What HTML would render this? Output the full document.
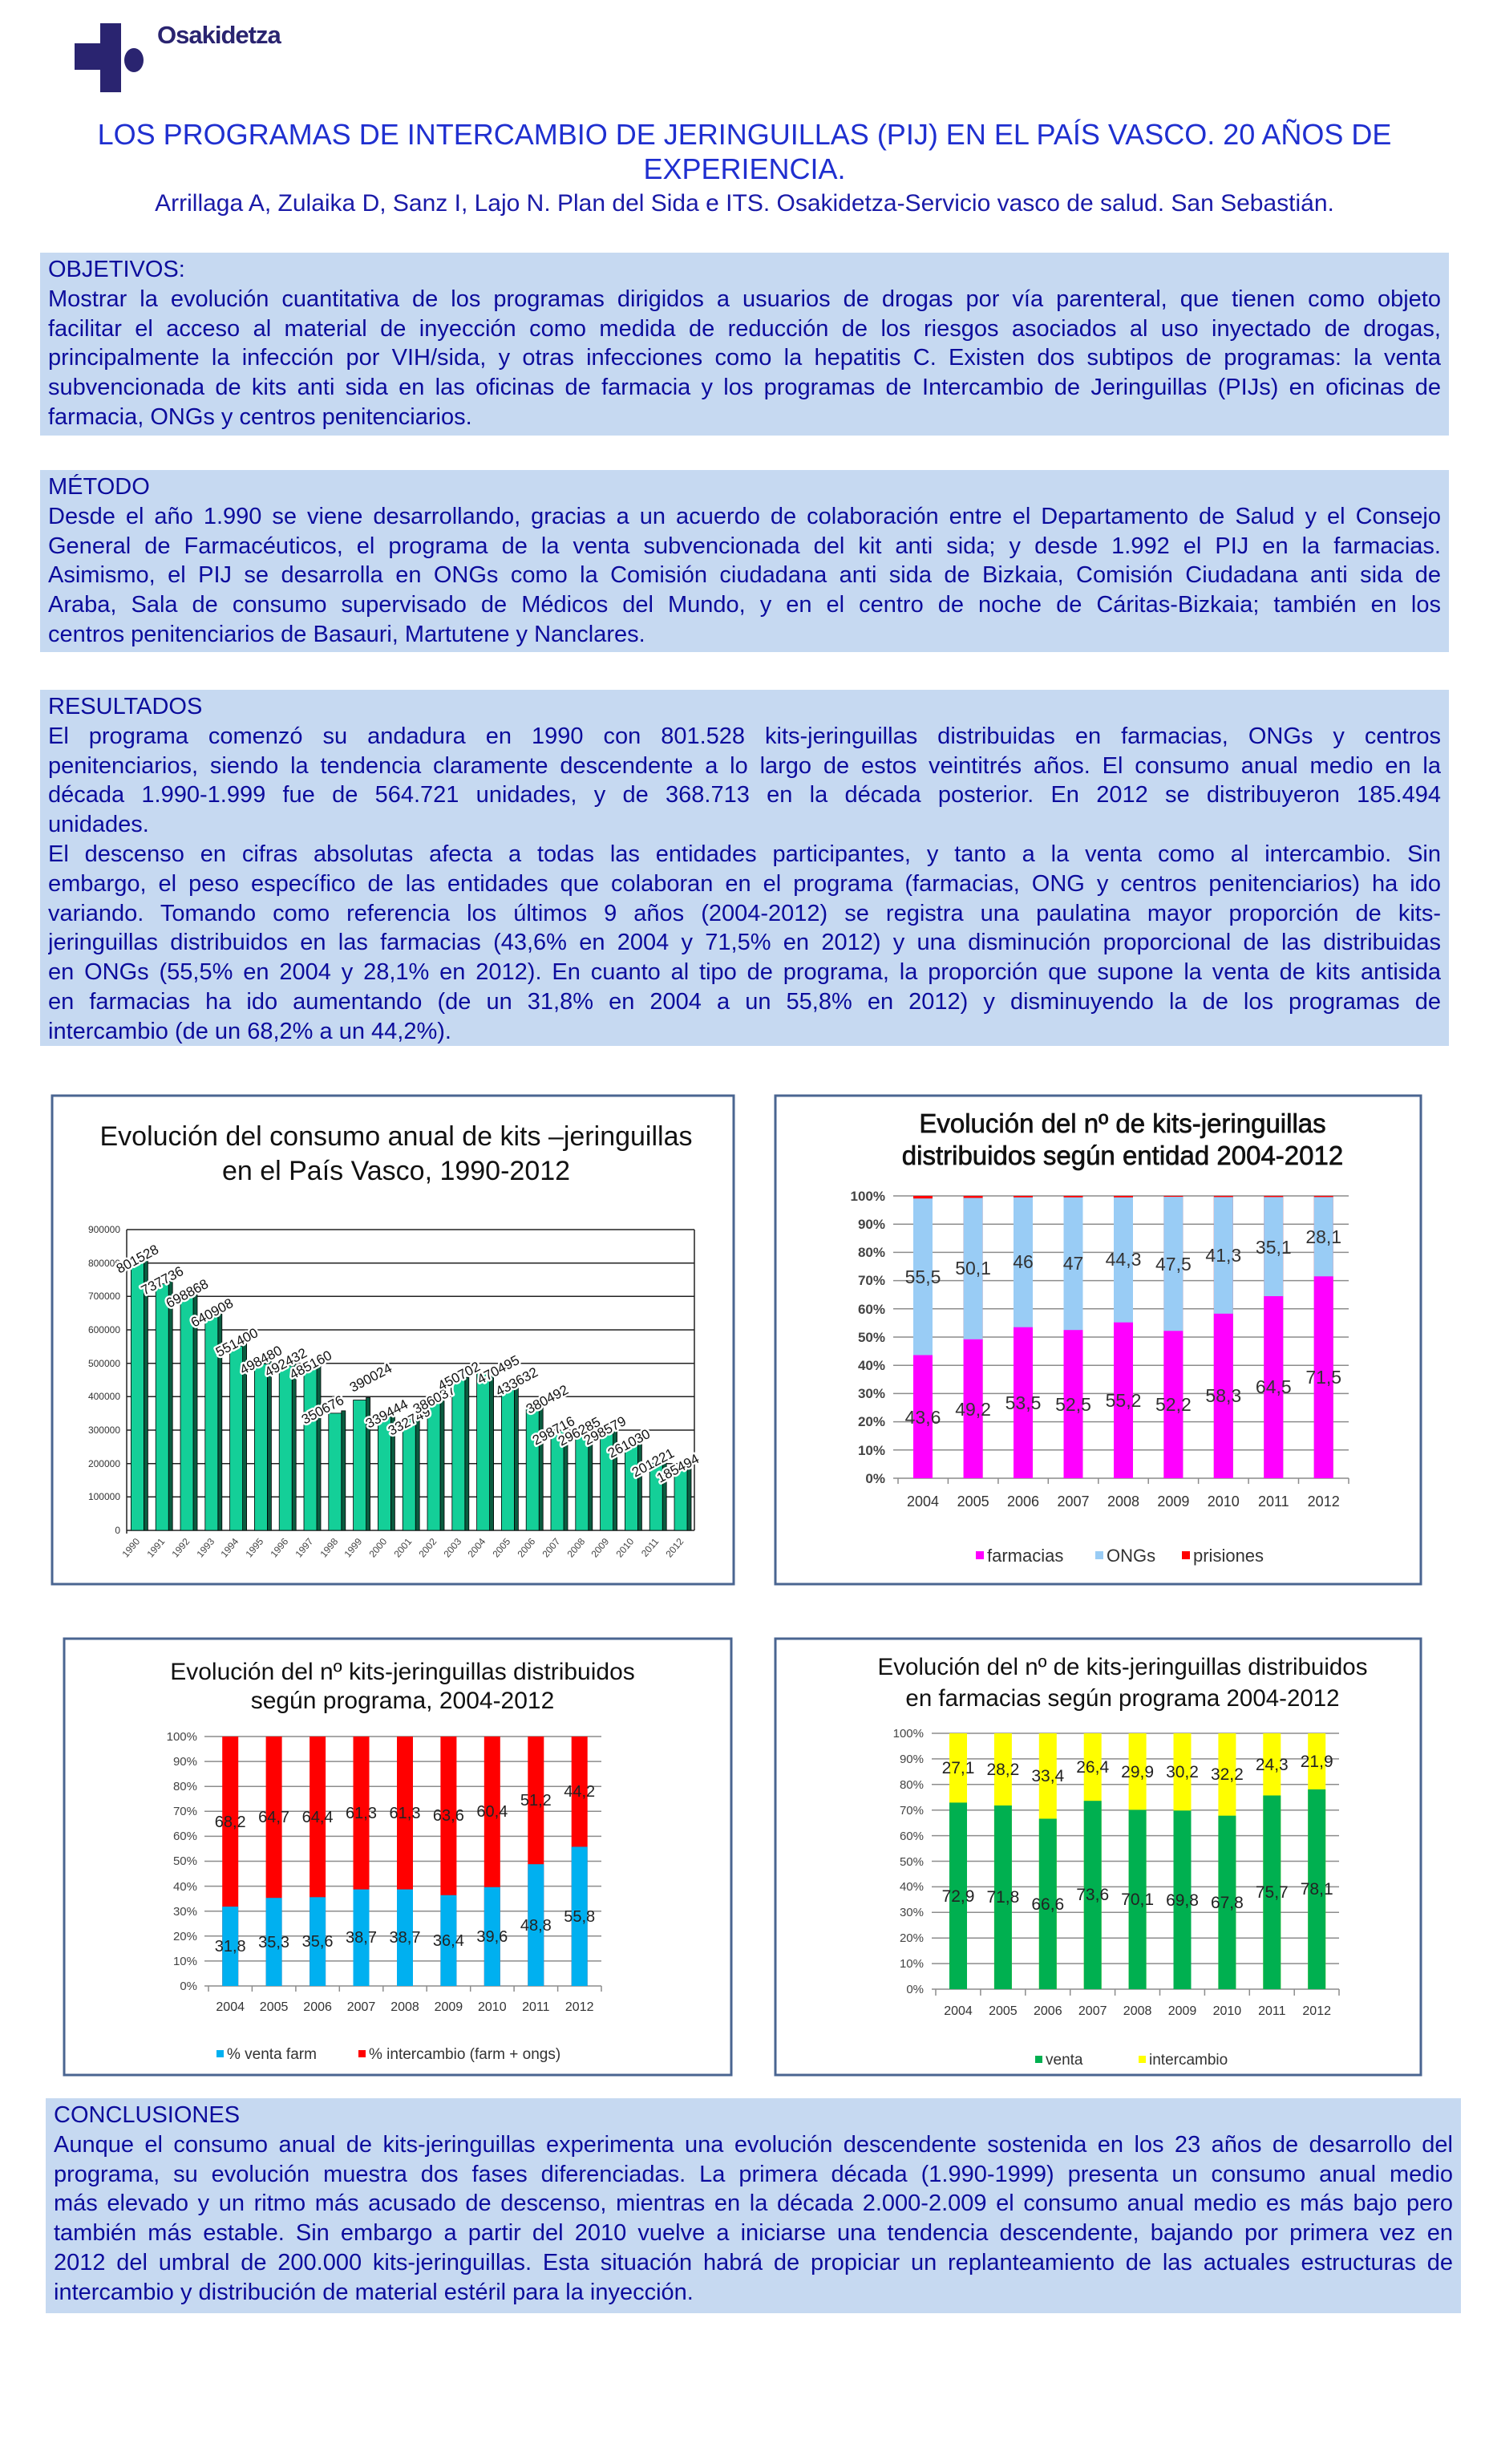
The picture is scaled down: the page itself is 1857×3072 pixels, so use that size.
<!DOCTYPE html>
<html><head><meta charset="utf-8">
<style>
html,body{margin:0;padding:0;background:#fff;}
body{width:1857px;height:3072px;position:relative;overflow:hidden;font-family:"Liberation Sans",Arial,sans-serif;}
.box{position:absolute;background:#c6d9f1;color:#0c0c9c;font-size:29px;box-sizing:border-box;padding:3px 10px 0 10px;}
.l{height:36.8px;line-height:36.8px;text-align:justify;text-align-last:justify;overflow:hidden;}
.l.e{text-align-last:left;}
.t{position:absolute;left:0;width:1857px;text-align:center;}
svg text{font-family:"Liberation Sans",Arial,sans-serif;}
</style></head><body>

<div style="position:absolute;left:125px;top:29px;width:26px;height:86px;background:#2a2470;"></div>
<div style="position:absolute;left:93px;top:54px;width:34px;height:33px;background:#2a2470;"></div>
<div style="position:absolute;left:155px;top:60px;width:24px;height:30px;background:#2a2470;border-radius:50%;"></div>
<div style="position:absolute;left:196px;top:26px;font-size:31px;font-weight:bold;color:#2a2470;letter-spacing:-1px;">Osakidetza</div>

<div class="t" style="top:146px;font-size:36px;color:#1f2fd0;line-height:43px;">LOS PROGRAMAS DE INTERCAMBIO DE JERINGUILLAS (PIJ) EN EL PAÍS VASCO. 20 AÑOS DE<br>EXPERIENCIA.</div>
<div class="t" style="top:237px;font-size:30px;color:#1a1aa8;">Arrillaga A, Zulaika D, Sanz I, Lajo N. Plan del Sida e ITS. Osakidetza-Servicio vasco de salud. San Sebastián.</div>

<div class="box" style="left:50px;top:315px;width:1757px;height:228px;">
<div class="l e">OBJETIVOS:</div>
<div class="l">Mostrar la evolución cuantitativa de los programas dirigidos a usuarios de drogas por vía parenteral, que tienen como objeto</div>
<div class="l">facilitar el acceso al material de inyección como medida de reducción de los riesgos asociados al uso inyectado de drogas,</div>
<div class="l">principalmente la infección por VIH/sida, y otras infecciones como la hepatitis C. Existen dos subtipos de programas: la venta</div>
<div class="l">subvencionada de kits anti sida en las oficinas de farmacia y los programas de Intercambio de Jeringuillas (PIJs) en oficinas de</div>
<div class="l e">farmacia, ONGs y centros penitenciarios.</div>
</div>

<div class="box" style="left:50px;top:586px;width:1757px;height:227px;">
<div class="l e">MÉTODO</div>
<div class="l">Desde el año 1.990 se viene desarrollando, gracias a un acuerdo de colaboración entre el Departamento de Salud y el Consejo</div>
<div class="l">General de Farmacéuticos, el programa de la venta subvencionada del kit anti sida; y desde 1.992 el PIJ en la farmacias.</div>
<div class="l">Asimismo, el PIJ se desarrolla en ONGs como la Comisión ciudadana anti sida de Bizkaia, Comisión Ciudadana anti sida de</div>
<div class="l">Araba, Sala de consumo supervisado de Médicos del Mundo, y en el centro de noche de Cáritas-Bizkaia; también en los</div>
<div class="l e">centros penitenciarios de Basauri, Martutene y Nanclares.</div>
</div>

<div class="box" style="left:50px;top:860px;width:1757px;height:444px;">
<div class="l e">RESULTADOS</div>
<div class="l">El programa comenzó su andadura en 1990 con 801.528 kits-jeringuillas distribuidas en farmacias, ONGs y centros</div>
<div class="l">penitenciarios, siendo la tendencia claramente descendente a lo largo de estos veintitrés años. El consumo anual medio en la</div>
<div class="l">década 1.990-1.999 fue de 564.721 unidades, y de 368.713 en la década posterior. En 2012 se distribuyeron 185.494</div>
<div class="l e">unidades.</div>
<div class="l">El descenso en cifras absolutas afecta a todas las entidades participantes, y tanto a la venta como al intercambio. Sin</div>
<div class="l">embargo, el peso específico de las entidades que colaboran en el programa (farmacias, ONG y centros penitenciarios) ha ido</div>
<div class="l">variando. Tomando como referencia los últimos 9 años (2004-2012) se registra una paulatina mayor proporción de kits-</div>
<div class="l">jeringuillas distribuidos en las farmacias (43,6% en 2004 y 71,5% en 2012) y una disminución proporcional de las distribuidas</div>
<div class="l">en ONGs (55,5% en 2004 y 28,1% en 2012). En cuanto al tipo de programa, la proporción que supone la venta de kits antisida</div>
<div class="l">en farmacias ha ido aumentando (de un 31,8% en 2004 a un 55,8% en 2012) y disminuyendo la de los programas de</div>
<div class="l e">intercambio (de un 68,2% a un 44,2%).</div>
</div>

<div class="box" style="left:57px;top:2616px;width:1765px;height:268px;">
<div class="l e">CONCLUSIONES</div>
<div class="l">Aunque el consumo anual de kits-jeringuillas experimenta una evolución descendente sostenida en los 23 años de desarrollo del</div>
<div class="l">programa, su evolución muestra dos fases diferenciadas. La primera década (1.990-1999) presenta un consumo anual medio</div>
<div class="l">más elevado y un ritmo más acusado de descenso, mientras en la década 2.000-2.009 el consumo anual medio es más bajo pero</div>
<div class="l">también más estable. Sin embargo a partir del 2010 vuelve a iniciarse una tendencia descendente, bajando por primera vez en</div>
<div class="l">2012 del umbral de 200.000 kits-jeringuillas. Esta situación habrá de propiciar un replanteamiento de las actuales estructuras de</div>
<div class="l e">intercambio y distribución de material estéril para la inyección.</div>
</div>

<svg style="position:absolute;left:0;top:0" width="1857" height="3072" viewBox="0 0 1857 3072">
<g fill="#fff" stroke="#4a6591" stroke-width="3">
<rect x="65" y="1366" width="850" height="609"/>
<rect x="967" y="1366" width="805" height="609"/>
<rect x="80" y="2043" width="832" height="544"/>
<rect x="967" y="2043" width="805" height="544"/>
</g>

<!-- CHART 1 -->
<g font-size="34" fill="#111" text-anchor="middle">
<text x="494" y="1428">Evolución del consumo anual de kits –jeringuillas</text>
<text x="494" y="1471">en el País Vasco, 1990-2012</text>
</g>
<g stroke="#222" stroke-width="1.5">
<line x1="158" y1="1533" x2="866" y2="1533"/>
<line x1="158" y1="1574.7" x2="866" y2="1574.7"/>
<line x1="158" y1="1616.3" x2="866" y2="1616.3"/>
<line x1="158" y1="1658" x2="866" y2="1658"/>
<line x1="158" y1="1699.7" x2="866" y2="1699.7"/>
<line x1="158" y1="1741.3" x2="866" y2="1741.3"/>
<line x1="158" y1="1783" x2="866" y2="1783"/>
<line x1="158" y1="1824.7" x2="866" y2="1824.7"/>
<line x1="158" y1="1866.3" x2="866" y2="1866.3"/>
<line x1="158" y1="1908" x2="866" y2="1908"/>
<line x1="158" y1="1533" x2="158" y2="1912"/>
<line x1="866" y1="1533" x2="866" y2="1908"/>
</g>
<g font-size="12" fill="#333" text-anchor="end">
<text x="150" y="1537">900000</text><text x="150" y="1579">800000</text><text x="150" y="1620">700000</text>
<text x="150" y="1662">600000</text><text x="150" y="1704">500000</text><text x="150" y="1745">400000</text>
<text x="150" y="1787">300000</text><text x="150" y="1829">200000</text><text x="150" y="1870">100000</text>
<text x="150" y="1912">0</text>
</g>
<g fill="#0a5c40" stroke="#000" stroke-width="0.8">
<rect x="179.4" y="1571" width="5" height="337"/><rect x="210.2" y="1597.6" width="5" height="310.4"/>
<rect x="241" y="1613.8" width="5" height="294.2"/><rect x="271.8" y="1637.9" width="5" height="270.1"/>
<rect x="302.6" y="1675.2" width="5" height="232.8"/><rect x="333.4" y="1697.3" width="5" height="210.7"/>
<rect x="364.2" y="1699.8" width="5" height="208.2"/><rect x="395" y="1702.8" width="5" height="205.2"/>
<rect x="425.8" y="1758.9" width="5" height="149.1"/><rect x="456.6" y="1742.5" width="5" height="165.5"/>
<rect x="487.4" y="1763.6" width="5" height="144.4"/><rect x="518.2" y="1766.3" width="5" height="141.7"/>
<rect x="549" y="1744.1" width="5" height="163.9"/><rect x="579.8" y="1717.2" width="5" height="190.8"/>
<rect x="610.6" y="1708.9" width="5" height="199.1"/><rect x="641.4" y="1724.3" width="5" height="183.7"/>
<rect x="672.2" y="1746.4" width="5" height="161.6"/><rect x="703" y="1780.5" width="5" height="127.5"/>
<rect x="733.8" y="1781.5" width="5" height="126.5"/><rect x="764.6" y="1780.6" width="5" height="127.4"/>
<rect x="795.4" y="1796.2" width="5" height="111.8"/><rect x="826.2" y="1821.2" width="5" height="86.8"/>
<rect x="857" y="1827.7" width="5" height="80.3"/>
</g>
<g fill="#14cf98" stroke="#000" stroke-width="0.8">
<rect x="163.4" y="1574" width="16" height="334"/><rect x="194.2" y="1600.6" width="16" height="307.4"/>
<rect x="225" y="1616.8" width="16" height="291.2"/><rect x="255.8" y="1640.9" width="16" height="267.1"/>
<rect x="286.6" y="1678.2" width="16" height="229.8"/><rect x="317.4" y="1700.3" width="16" height="207.7"/>
<rect x="348.2" y="1702.8" width="16" height="205.2"/><rect x="379" y="1705.8" width="16" height="202.2"/>
<rect x="409.8" y="1761.9" width="16" height="146.1"/><rect x="440.6" y="1745.5" width="16" height="162.5"/>
<rect x="471.4" y="1766.6" width="16" height="141.4"/><rect x="502.2" y="1769.3" width="16" height="138.7"/>
<rect x="533" y="1747.1" width="16" height="160.9"/><rect x="563.8" y="1720.2" width="16" height="187.8"/>
<rect x="594.6" y="1711.9" width="16" height="196.1"/><rect x="625.4" y="1727.3" width="16" height="180.7"/>
<rect x="656.2" y="1749.4" width="16" height="158.6"/><rect x="687" y="1783.5" width="16" height="124.5"/>
<rect x="717.8" y="1784.5" width="16" height="123.5"/><rect x="748.6" y="1783.6" width="16" height="124.4"/>
<rect x="779.4" y="1799.2" width="16" height="108.8"/><rect x="810.2" y="1824.2" width="16" height="83.8"/>
<rect x="841" y="1830.7" width="16" height="77.3"/>
</g>
<g font-size="17" fill="#111" stroke="#fff" stroke-width="5" paint-order="stroke" stroke-linejoin="round">
<text transform="translate(149,1588) rotate(-28)">801528</text>
<text transform="translate(180,1615) rotate(-28)">737736</text>
<text transform="translate(211,1631) rotate(-28)">698868</text>
<text transform="translate(242,1655) rotate(-28)">640908</text>
<text transform="translate(273,1692) rotate(-28)">551400</text>
<text transform="translate(303,1714) rotate(-28)">498480</text>
<text transform="translate(334,1717) rotate(-28)">492432</text>
<text transform="translate(365,1720) rotate(-28)">485160</text>
<text transform="translate(380,1776) rotate(-28)">350676</text>
<text transform="translate(440,1736) rotate(-28)">390024</text>
<text transform="translate(460,1781) rotate(-28)">339444</text>
<text transform="translate(488,1790) rotate(-28)">332749</text>
<text transform="translate(519,1763) rotate(-28)">386037</text>
<text transform="translate(550,1734) rotate(-28)">450702</text>
<text transform="translate(599,1726) rotate(-28)">470495</text>
<text transform="translate(622,1741) rotate(-28)">433632</text>
<text transform="translate(660,1763) rotate(-28)">380492</text>
<text transform="translate(668,1802) rotate(-28)">298716</text>
<text transform="translate(700,1803) rotate(-28)">296285</text>
<text transform="translate(732,1802) rotate(-28)">298579</text>
<text transform="translate(762,1818) rotate(-28)">261030</text>
<text transform="translate(792,1842) rotate(-28)">201221</text>
<text transform="translate(823,1849) rotate(-28)">185494</text>
</g>
<g font-size="12" fill="#444" text-anchor="end">
<text transform="translate(175,1922) rotate(-50)">1990</text><text transform="translate(206,1922) rotate(-50)">1991</text>
<text transform="translate(237,1922) rotate(-50)">1992</text><text transform="translate(268,1922) rotate(-50)">1993</text>
<text transform="translate(298,1922) rotate(-50)">1994</text><text transform="translate(329,1922) rotate(-50)">1995</text>
<text transform="translate(360,1922) rotate(-50)">1996</text><text transform="translate(391,1922) rotate(-50)">1997</text>
<text transform="translate(422,1922) rotate(-50)">1998</text><text transform="translate(452,1922) rotate(-50)">1999</text>
<text transform="translate(483,1922) rotate(-50)">2000</text><text transform="translate(514,1922) rotate(-50)">2001</text>
<text transform="translate(545,1922) rotate(-50)">2002</text><text transform="translate(576,1922) rotate(-50)">2003</text>
<text transform="translate(606,1922) rotate(-50)">2004</text><text transform="translate(637,1922) rotate(-50)">2005</text>
<text transform="translate(668,1922) rotate(-50)">2006</text><text transform="translate(699,1922) rotate(-50)">2007</text>
<text transform="translate(730,1922) rotate(-50)">2008</text><text transform="translate(760,1922) rotate(-50)">2009</text>
<text transform="translate(791,1922) rotate(-50)">2010</text><text transform="translate(822,1922) rotate(-50)">2011</text>
<text transform="translate(853,1922) rotate(-50)">2012</text>
</g>

<!-- CHART 2 -->
<g font-size="33" fill="#111" text-anchor="middle" stroke="#111" stroke-width="0.7">
<text x="1400" y="1412">Evolución del nº de kits-jeringuillas</text>
<text x="1400" y="1452">distribuidos según entidad 2004-2012</text>
</g>
<g stroke="#8c8c8c" stroke-width="1.5">
<line x1="1114" y1="1491" x2="1682" y2="1491"/><line x1="1114" y1="1526.2" x2="1682" y2="1526.2"/>
<line x1="1114" y1="1561.4" x2="1682" y2="1561.4"/><line x1="1114" y1="1596.6" x2="1682" y2="1596.6"/>
<line x1="1114" y1="1631.8" x2="1682" y2="1631.8"/><line x1="1114" y1="1667" x2="1682" y2="1667"/>
<line x1="1114" y1="1702.2" x2="1682" y2="1702.2"/><line x1="1114" y1="1737.4" x2="1682" y2="1737.4"/>
<line x1="1114" y1="1772.6" x2="1682" y2="1772.6"/><line x1="1114" y1="1807.8" x2="1682" y2="1807.8"/>
<line x1="1114" y1="1843" x2="1682" y2="1843"/>
<line x1="1120" y1="1843" x2="1120" y2="1850"/><line x1="1182.4" y1="1843" x2="1182.4" y2="1850"/>
<line x1="1244.9" y1="1843" x2="1244.9" y2="1850"/><line x1="1307.3" y1="1843" x2="1307.3" y2="1850"/>
<line x1="1369.8" y1="1843" x2="1369.8" y2="1850"/><line x1="1432.2" y1="1843" x2="1432.2" y2="1850"/>
<line x1="1494.6" y1="1843" x2="1494.6" y2="1850"/><line x1="1557.1" y1="1843" x2="1557.1" y2="1850"/>
<line x1="1619.5" y1="1843" x2="1619.5" y2="1850"/><line x1="1682" y1="1843" x2="1682" y2="1850"/>
</g>
<g fill="#ff0000">
<rect x="1139" y="1491" width="24" height="352"/><rect x="1201.6" y="1491" width="24" height="352"/>
<rect x="1264" y="1491" width="24" height="352"/><rect x="1326.5" y="1491" width="24" height="352"/>
<rect x="1389" y="1491" width="24" height="352"/><rect x="1451.4" y="1491" width="24" height="352"/>
<rect x="1513.8" y="1491" width="24" height="352"/><rect x="1576.3" y="1491" width="24" height="352"/>
<rect x="1638.7" y="1491" width="24" height="352"/>
</g>
<g fill="#99ccf5">
<rect x="1139" y="1494.2" width="24" height="348.8"/><rect x="1201.6" y="1493.5" width="24" height="349.5"/>
<rect x="1264" y="1492.8" width="24" height="350.2"/><rect x="1326.5" y="1492.8" width="24" height="350.2"/>
<rect x="1389" y="1492.8" width="24" height="350.2"/><rect x="1451.4" y="1492.1" width="24" height="350.9"/>
<rect x="1513.8" y="1492.4" width="24" height="350.6"/><rect x="1576.3" y="1492.4" width="24" height="350.6"/>
<rect x="1638.7" y="1492.4" width="24" height="350.6"/>
</g>
<g fill="#ff00ff">
<rect x="1139" y="1689.5" width="24" height="153.5"/><rect x="1201.6" y="1669.8" width="24" height="173.2"/>
<rect x="1264" y="1654.7" width="24" height="188.3"/><rect x="1326.5" y="1658.2" width="24" height="184.8"/>
<rect x="1389" y="1648.7" width="24" height="194.3"/><rect x="1451.4" y="1659.3" width="24" height="183.7"/>
<rect x="1513.8" y="1637.8" width="24" height="205.2"/><rect x="1576.3" y="1616" width="24" height="227"/>
<rect x="1638.7" y="1591.3" width="24" height="251.7"/>
</g>
<g font-size="23" fill="#333" text-anchor="middle">
<text x="1151" y="1600">55,5</text><text x="1213.6" y="1589">50,1</text><text x="1276" y="1581">46</text>
<text x="1338.5" y="1583">47</text><text x="1401" y="1578">44,3</text><text x="1463.4" y="1584">47,5</text>
<text x="1525.8" y="1573">41,3</text><text x="1588.3" y="1563">35,1</text><text x="1650.7" y="1550">28,1</text>
<text x="1151" y="1775">43,6</text><text x="1213.6" y="1765">49,2</text><text x="1276" y="1757">53,5</text>
<text x="1338.5" y="1759">52,5</text><text x="1401" y="1754">55,2</text><text x="1463.4" y="1759">52,2</text>
<text x="1525.8" y="1748">58,3</text><text x="1588.3" y="1737">64,5</text><text x="1650.7" y="1725">71,5</text>
</g>
<g font-size="17" fill="#444" text-anchor="end" font-weight="bold">
<text x="1104" y="1497">100%</text><text x="1104" y="1532">90%</text><text x="1104" y="1567">80%</text>
<text x="1104" y="1602">70%</text><text x="1104" y="1638">60%</text><text x="1104" y="1673">50%</text>
<text x="1104" y="1708">40%</text><text x="1104" y="1743">30%</text><text x="1104" y="1778">20%</text>
<text x="1104" y="1814">10%</text><text x="1104" y="1849">0%</text>
</g>
<g font-size="18" fill="#333" text-anchor="middle">
<text x="1151" y="1878">2004</text><text x="1213.6" y="1878">2005</text><text x="1276" y="1878">2006</text>
<text x="1338.5" y="1878">2007</text><text x="1401" y="1878">2008</text><text x="1463.4" y="1878">2009</text>
<text x="1525.8" y="1878">2010</text><text x="1588.3" y="1878">2011</text><text x="1650.7" y="1878">2012</text>
</g>
<rect x="1217" y="1934" width="10" height="10" fill="#ff00ff"/>
<rect x="1366" y="1934" width="10" height="10" fill="#99ccf5"/>
<rect x="1474" y="1934" width="10" height="10" fill="#ff0000"/>
<g font-size="22" fill="#333">
<text x="1231" y="1947">farmacias</text><text x="1380" y="1947">ONGs</text><text x="1488" y="1947">prisiones</text>
</g>

<!-- CHART 3 -->
<g font-size="30" fill="#111" text-anchor="middle">
<text x="502" y="2094">Evolución del nº kits-jeringuillas  distribuidos</text>
<text x="502" y="2130">según programa, 2004-2012</text>
</g>
<g stroke="#8c8c8c" stroke-width="1.5">
<line x1="255" y1="2165" x2="750" y2="2165"/><line x1="255" y1="2196.1" x2="750" y2="2196.1"/>
<line x1="255" y1="2227.2" x2="750" y2="2227.2"/><line x1="255" y1="2258.3" x2="750" y2="2258.3"/>
<line x1="255" y1="2289.4" x2="750" y2="2289.4"/><line x1="255" y1="2320.5" x2="750" y2="2320.5"/>
<line x1="255" y1="2351.6" x2="750" y2="2351.6"/><line x1="255" y1="2382.7" x2="750" y2="2382.7"/>
<line x1="255" y1="2413.8" x2="750" y2="2413.8"/><line x1="255" y1="2444.9" x2="750" y2="2444.9"/>
<line x1="255" y1="2476" x2="750" y2="2476"/>
<line x1="260" y1="2476" x2="260" y2="2483"/><line x1="314.4" y1="2476" x2="314.4" y2="2483"/>
<line x1="368.9" y1="2476" x2="368.9" y2="2483"/><line x1="423.3" y1="2476" x2="423.3" y2="2483"/>
<line x1="477.8" y1="2476" x2="477.8" y2="2483"/><line x1="532.2" y1="2476" x2="532.2" y2="2483"/>
<line x1="586.7" y1="2476" x2="586.7" y2="2483"/><line x1="641.1" y1="2476" x2="641.1" y2="2483"/>
<line x1="695.6" y1="2476" x2="695.6" y2="2483"/><line x1="750" y1="2476" x2="750" y2="2483"/>
</g>
<g fill="#ff0000">
<rect x="277.2" y="2165" width="20" height="311"/><rect x="331.6" y="2165" width="20" height="311"/>
<rect x="386.1" y="2165" width="20" height="311"/><rect x="440.5" y="2165" width="20" height="311"/>
<rect x="495" y="2165" width="20" height="311"/><rect x="549.4" y="2165" width="20" height="311"/>
<rect x="603.8" y="2165" width="20" height="311"/><rect x="658.3" y="2165" width="20" height="311"/>
<rect x="712.7" y="2165" width="20" height="311"/>
</g>
<g fill="#00b0f0">
<rect x="277.2" y="2377.1" width="20" height="98.9"/><rect x="331.6" y="2366.2" width="20" height="109.8"/>
<rect x="386.1" y="2365.3" width="20" height="110.7"/><rect x="440.5" y="2355.6" width="20" height="120.4"/>
<rect x="495" y="2355.6" width="20" height="120.4"/><rect x="549.4" y="2362.8" width="20" height="113.2"/>
<rect x="603.8" y="2352.8" width="20" height="123.2"/><rect x="658.3" y="2324.2" width="20" height="151.8"/>
<rect x="712.7" y="2302.5" width="20" height="173.5"/>
</g>
<g font-size="20" fill="#222" text-anchor="middle">
<text x="287.2" y="2278">68,2</text><text x="341.6" y="2272">64,7</text><text x="396.1" y="2272">64,4</text>
<text x="450.5" y="2267">61,3</text><text x="505" y="2267">61,3</text><text x="559.4" y="2270">63,6</text>
<text x="613.8" y="2265">60,4</text><text x="668.3" y="2251">51,2</text><text x="722.7" y="2240">44,2</text>
<text x="287.2" y="2433">31,8</text><text x="341.6" y="2428">35,3</text><text x="396.1" y="2427">35,6</text>
<text x="450.5" y="2422">38,7</text><text x="505" y="2422">38,7</text><text x="559.4" y="2426">36,4</text>
<text x="613.8" y="2421">39,6</text><text x="668.3" y="2407">48,8</text><text x="722.7" y="2396">55,8</text>
</g>
<g font-size="15" fill="#444" text-anchor="end">
<text x="246" y="2170">100%</text><text x="246" y="2201">90%</text><text x="246" y="2232">80%</text>
<text x="246" y="2263">70%</text><text x="246" y="2294">60%</text><text x="246" y="2325">50%</text>
<text x="246" y="2357">40%</text><text x="246" y="2388">30%</text><text x="246" y="2419">20%</text>
<text x="246" y="2450">10%</text><text x="246" y="2481">0%</text>
</g>
<g font-size="16" fill="#333" text-anchor="middle">
<text x="287.2" y="2507">2004</text><text x="341.6" y="2507">2005</text><text x="396.1" y="2507">2006</text>
<text x="450.5" y="2507">2007</text><text x="505" y="2507">2008</text><text x="559.4" y="2507">2009</text>
<text x="613.8" y="2507">2010</text><text x="668.3" y="2507">2011</text><text x="722.7" y="2507">2012</text>
</g>
<rect x="270" y="2556" width="9" height="9" fill="#00b0f0"/>
<rect x="447" y="2556" width="9" height="9" fill="#ff0000"/>
<g font-size="19" fill="#333">
<text x="283" y="2567">% venta farm</text><text x="460" y="2567">% intercambio (farm + ongs)</text>
</g>

<!-- CHART 4 -->
<g font-size="29.5" fill="#111" text-anchor="middle">
<text x="1400" y="2088">Evolución del nº de kits-jeringuillas  distribuidos</text>
<text x="1400" y="2127">en farmacias según programa 2004-2012</text>
</g>
<g stroke="#8c8c8c" stroke-width="1.5">
<line x1="1162" y1="2161" x2="1670" y2="2161"/><line x1="1162" y1="2192.9" x2="1670" y2="2192.9"/>
<line x1="1162" y1="2224.8" x2="1670" y2="2224.8"/><line x1="1162" y1="2256.7" x2="1670" y2="2256.7"/>
<line x1="1162" y1="2288.6" x2="1670" y2="2288.6"/><line x1="1162" y1="2320.5" x2="1670" y2="2320.5"/>
<line x1="1162" y1="2352.4" x2="1670" y2="2352.4"/><line x1="1162" y1="2384.3" x2="1670" y2="2384.3"/>
<line x1="1162" y1="2416.2" x2="1670" y2="2416.2"/><line x1="1162" y1="2448.1" x2="1670" y2="2448.1"/>
<line x1="1162" y1="2480" x2="1670" y2="2480"/>
<line x1="1167" y1="2480" x2="1167" y2="2488"/><line x1="1222.9" y1="2480" x2="1222.9" y2="2488"/>
<line x1="1278.8" y1="2480" x2="1278.8" y2="2488"/><line x1="1334.7" y1="2480" x2="1334.7" y2="2488"/>
<line x1="1390.6" y1="2480" x2="1390.6" y2="2488"/><line x1="1446.5" y1="2480" x2="1446.5" y2="2488"/>
<line x1="1502.4" y1="2480" x2="1502.4" y2="2488"/><line x1="1558.3" y1="2480" x2="1558.3" y2="2488"/>
<line x1="1614.2" y1="2480" x2="1614.2" y2="2488"/><line x1="1670" y1="2480" x2="1670" y2="2488"/>
</g>
<g fill="#ffff00">
<rect x="1184" y="2161" width="22" height="319"/><rect x="1239.9" y="2161" width="22" height="319"/>
<rect x="1295.8" y="2161" width="22" height="319"/><rect x="1351.7" y="2161" width="22" height="319"/>
<rect x="1407.6" y="2161" width="22" height="319"/><rect x="1463.5" y="2161" width="22" height="319"/>
<rect x="1519.4" y="2161" width="22" height="319"/><rect x="1575.3" y="2161" width="22" height="319"/>
<rect x="1631.2" y="2161" width="22" height="319"/>
</g>
<g fill="#00b050">
<rect x="1184" y="2247.4" width="22" height="232.6"/><rect x="1239.9" y="2251" width="22" height="229"/>
<rect x="1295.8" y="2267.5" width="22" height="212.5"/><rect x="1351.7" y="2245.2" width="22" height="234.8"/>
<rect x="1407.6" y="2256.4" width="22" height="223.6"/><rect x="1463.5" y="2257.3" width="22" height="222.7"/>
<rect x="1519.4" y="2263.7" width="22" height="216.3"/><rect x="1575.3" y="2238.5" width="22" height="241.5"/>
<rect x="1631.2" y="2230.9" width="22" height="249.1"/>
</g>
<g font-size="21" fill="#222" text-anchor="middle">
<text x="1195" y="2211">27,1</text><text x="1250.9" y="2213">28,2</text><text x="1306.8" y="2221">33,4</text>
<text x="1362.7" y="2210">26,4</text><text x="1418.6" y="2216">29,9</text><text x="1474.5" y="2216">30,2</text>
<text x="1530.4" y="2219">32,2</text><text x="1586.3" y="2207">24,3</text><text x="1642.2" y="2203">21,9</text>
<text x="1195" y="2371">72,9</text><text x="1250.9" y="2372">71,8</text><text x="1306.8" y="2381">66,6</text>
<text x="1362.7" y="2369">73,6</text><text x="1418.6" y="2375">70,1</text><text x="1474.5" y="2376">69,8</text>
<text x="1530.4" y="2379">67,8</text><text x="1586.3" y="2366">75,7</text><text x="1642.2" y="2362">78,1</text>
</g>
<g font-size="15" fill="#444" text-anchor="end">
<text x="1152" y="2166">100%</text><text x="1152" y="2198">90%</text><text x="1152" y="2230">80%</text>
<text x="1152" y="2262">70%</text><text x="1152" y="2294">60%</text><text x="1152" y="2326">50%</text>
<text x="1152" y="2357">40%</text><text x="1152" y="2389">30%</text><text x="1152" y="2421">20%</text>
<text x="1152" y="2453">10%</text><text x="1152" y="2485">0%</text>
</g>
<g font-size="16" fill="#333" text-anchor="middle">
<text x="1195" y="2512">2004</text><text x="1250.9" y="2512">2005</text><text x="1306.8" y="2512">2006</text>
<text x="1362.7" y="2512">2007</text><text x="1418.6" y="2512">2008</text><text x="1474.5" y="2512">2009</text>
<text x="1530.4" y="2512">2010</text><text x="1586.3" y="2512">2011</text><text x="1642.2" y="2512">2012</text>
</g>
<rect x="1291" y="2563" width="9" height="9" fill="#00b050"/>
<rect x="1420" y="2563" width="9" height="9" fill="#ffff00"/>
<g font-size="19" fill="#333">
<text x="1304" y="2574">venta</text><text x="1433" y="2574">intercambio</text>
</g>
</svg>
</body></html>
